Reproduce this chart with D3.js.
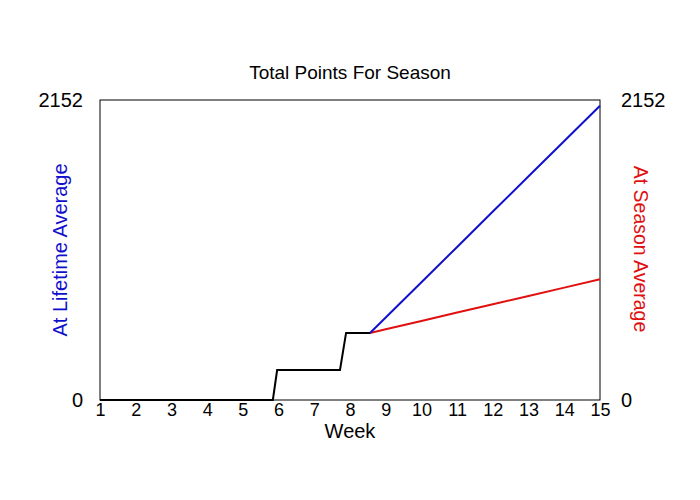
<!DOCTYPE html>
<html><head><meta charset="utf-8">
<script src="https://cdn.jsdelivr.net/npm/d3@7"></script>
<style>body{margin:0;background:#fff}</style>
</head><body>
<svg id="c" width="700" height="500"></svg>
<script>
const weeks = [1,2,3,4,5,6,7,8,9,10,11,12,13,14,15];
const yMax = 2152;
const actualWeeks  = [1, 5.84, 5.96, 7.72, 7.89, 8.56];
const actualPoints = [0, 0,    215,  215,  481,  481];
const projWeeks    = [8.56, 9, 10, 11, 12, 13, 14, 15];
const lifetimeAvg  = [481, 592, 845, 1098, 1352, 1605, 1858, 2111];
const seasonAvg    = [481, 507, 567, 627, 687, 746, 806, 866];

const svg = d3.select("#c");
const L=100,R=600,T=100,B=400;
const x = d3.scaleLinear().domain([1,15]).range([L,R]);
const y = d3.scaleLinear().domain([0,yMax]).range([B,T]);
const font = "Arial, 'Liberation Sans', sans-serif";

svg.append("rect").attr("x",L).attr("y",T).attr("width",R-L).attr("height",B-T)
  .attr("fill","none").attr("stroke","#000").attr("stroke-width",1);

const line = d3.line().x(d=>x(d[0])).y(d=>y(d[1]));
svg.append("path").datum(projWeeks.map((w,i)=>[w,seasonAvg[i]]))
  .attr("d",line).attr("fill","none").attr("stroke","#e01010").attr("stroke-width",2);
svg.append("path").datum(projWeeks.map((w,i)=>[w,lifetimeAvg[i]]))
  .attr("d",line).attr("fill","none").attr("stroke","#1010cc").attr("stroke-width",2);
svg.append("path").datum(actualWeeks.map((w,i)=>[w,actualPoints[i]]))
  .attr("d",line).attr("fill","none").attr("stroke","#000").attr("stroke-width",2);

const xAxis = d3.axisBottom(x).tickValues(weeks).tickSize(0).tickPadding(3).tickFormat(d3.format("d"));
const gx = svg.append("g").attr("transform",`translate(0,${B})`).call(xAxis);
gx.select(".domain").remove();
gx.selectAll("text").attr("font-family",font).attr("font-size",18).attr("fill","#000");

const yAxisL = d3.axisLeft(y).tickValues([0,yMax]).tickSize(0).tickPadding(17).tickFormat(d3.format("d"));
const gyl = svg.append("g").attr("transform",`translate(${L},0)`).call(yAxisL);
gyl.select(".domain").remove();
gyl.selectAll("text").attr("font-family",font).attr("font-size",20).attr("fill","#000");
const yAxisR = d3.axisRight(y).tickValues([0,yMax]).tickSize(0).tickPadding(21).tickFormat(d3.format("d"));
const gyr = svg.append("g").attr("transform",`translate(${R},0)`).call(yAxisR);
gyr.select(".domain").remove();
gyr.selectAll("text").attr("font-family",font).attr("font-size",20).attr("fill","#000");

svg.append("text").attr("x",350).attr("y",79).attr("text-anchor","middle")
  .attr("font-family",font).attr("font-size",19).text("Total Points For Season");
svg.append("text").attr("x",350).attr("y",438).attr("text-anchor","middle")
  .attr("font-family",font).attr("font-size",20).text("Week");
svg.append("text").attr("transform","translate(67,250) rotate(-90)").attr("text-anchor","middle")
  .attr("font-family",font).attr("font-size",20).attr("fill","#1010cc").text("At Lifetime Average");
svg.append("text").attr("transform","translate(634,249) rotate(90)").attr("text-anchor","middle")
  .attr("font-family",font).attr("font-size",19.5).attr("fill","#e01010").text("At Season Average");
</script>
</body></html>
